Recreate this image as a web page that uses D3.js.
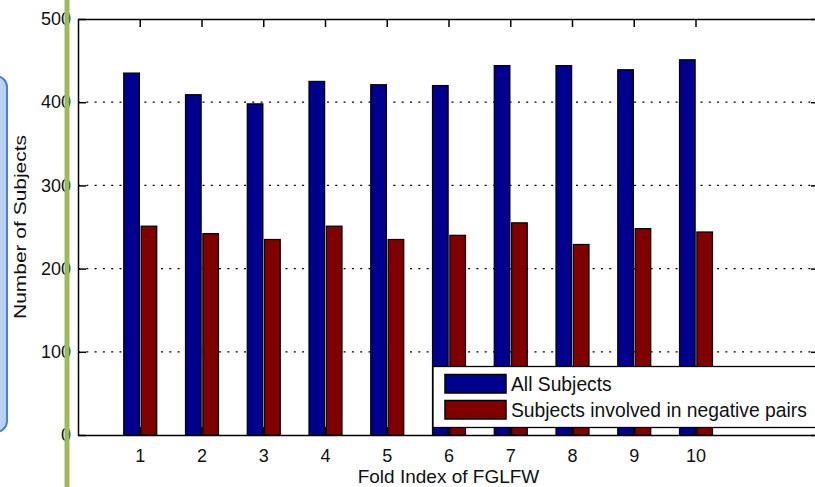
<!DOCTYPE html>
<html>
<head>
<meta charset="utf-8">
<script src="https://cdn.jsdelivr.net/npm/d3@7"></script>
<style>
	body { margin: 0; background: #fff; }
	svg { display: block; }
	text { font-family: Arial, "Liberation Sans", sans-serif; fill: #111; }
</style>
</head>
<body>
<div id="chart"></div>
<script>

const folds = [1, 2, 3, 4, 5, 6, 7, 8, 9, 10];
const allSubjects = [435, 409, 398, 425, 421, 420, 444, 444, 439, 451];
const negSubjects = [251, 242, 235, 251, 235, 240, 255, 229, 248, 244];
const seriesNames = ["All Subjects", "Subjects involved in negative pairs"];
const yTicks = [0, 100, 200, 300, 400, 500];

const W = 815, H = 487;
const m = {t:19, r:-4, b:52, l:78};

const svg = d3.select("#chart").append("svg")
	.attr("width", W)
	.attr("height", H);

const x = d3.scaleLinear()
	.domain([0, 12])
	.range([m.l, W - m.r]);

const y = d3.scaleLinear()
	.domain([0, 500])
	.range([H - m.b, m.t]);

// offsets of the two bars inside a group, in px
const x1 = d3.scaleBand()
	.domain(seriesNames)
	.range([-16, 17])
	.paddingInner(0.1);

const colors = d3.scaleOrdinal()
	.domain(seriesNames)
	.range(["#00008f", "#800000"]);

const data = folds.map((f, i) => ({fold: f, values: [allSubjects[i], negSubjects[i]]}));

// dotted grid
svg.append("g")
	.selectAll("line")
	.data(yTicks.filter(d => d > 0 && d < 500))
	.enter()
	.append("line")
	.attr("x1", x(0))
	.attr("x2", x(12))
	.attr("y1", d => y(d))
	.attr("y2", d => y(d))
	.attr("stroke", "#000")
	.attr("stroke-width", 1.3)
	.attr("stroke-dasharray", "2,6.3");

// bars
const groups = svg.selectAll(".grp")
	.data(data)
	.enter()
	.append("g")
	.attr("class", "grp")
	.attr("transform", d => `translate(${x(d.fold)},0)`);

groups.selectAll("rect")
	.data(d => d.values.map((v, k) => ({name: seriesNames[k], value: v})))
	.enter()
	.append("rect")
	.attr("x", d => x1(d.name))
	.attr("width", x1.bandwidth())
	.attr("y", d => y(d.value))
	.attr("height", d => y(0) - y(d.value))
	.attr("fill", d => colors(d.name))
	.attr("stroke", "#000")
	.attr("stroke-width", 1.2);

// axes (MATLAB style box with inward ticks)
const axisFont = g => g.selectAll("text")
	.style("font-size", "18px")
	.style("font-family", "Arial, 'Liberation Sans', sans-serif")
	.attr("fill", "#1a1a2e");

svg.append("g")
	.attr("transform", `translate(0,${y(0)})`)
	.call(d3.axisBottom(x).tickValues(folds).tickSize(-8).tickPadding(14).tickSizeOuter(0))
	.call(axisFont)
	.call(g => g.select(".domain").attr("stroke-width", 1.5))
	.call(g => g.selectAll(".tick line").attr("stroke-width", 1.5));

svg.append("g")
	.attr("transform", `translate(0,${y(500)})`)
	.call(d3.axisTop(x).tickValues(folds).tickSize(-8).tickFormat("").tickSizeOuter(0))
	.call(g => g.select(".domain").attr("stroke-width", 1.5))
	.call(g => g.selectAll(".tick line").attr("stroke-width", 1.5));

svg.append("g")
	.attr("transform", `translate(${x(0)},0)`)
	.call(d3.axisLeft(y).tickValues(yTicks).tickSize(-8).tickPadding(7).tickSizeOuter(0))
	.call(axisFont)
	.call(g => g.select(".domain").attr("stroke-width", 1.5))
	.call(g => g.selectAll(".tick line").attr("stroke-width", 1.5));

svg.append("g")
	.attr("transform", `translate(${x(12)},0)`)
	.call(d3.axisRight(y).tickValues(yTicks).tickSize(-8).tickFormat("").tickSizeOuter(0))
	.call(g => g.select(".domain").attr("stroke-width", 1.5))
	.call(g => g.selectAll(".tick line").attr("stroke-width", 1.5));

// axis titles
svg.append("text")
	.attr("x", (x(0) + x(12)) / 2)
	.attr("y", 483)
	.attr("text-anchor", "middle")
	.style("font-size", "19px")
	.text("Fold Index of FGLFW");

svg.append("text")
	.attr("transform", `translate(26,${(y(0) + y(500)) / 2}) rotate(-90)`)
	.attr("text-anchor", "middle")
	.attr("textLength", 184)
	.attr("lengthAdjust", "spacingAndGlyphs")
	.style("font-size", "17px")
	.text("Number of Subjects");

// legend
const leg = svg.append("g")
	.attr("transform", "translate(433,366.5)");

leg.append("rect")
	.attr("width", 420)
	.attr("height", 61)
	.attr("fill", "#fff")
	.attr("stroke", "#000")
	.attr("stroke-width", 1.3);

const items = leg.selectAll(".item")
	.data(seriesNames)
	.enter()
	.append("g")
	.attr("class", "item")
	.attr("transform", (d, i) => `translate(12,${8 + i * 26})`);

items.append("rect")
	.attr("width", 61)
	.attr("height", 18.5)
	.attr("fill", d => colors(d))
	.attr("stroke", "#000")
	.attr("stroke-width", 1.5);

items.append("text")
	.attr("x", 66)
	.attr("y", 16)
	.style("font-size", "19.3px")
	.text(d => d);

// slide decorations over the left edge
const defs = svg.append("defs");
const grad = defs.append("linearGradient").attr("id", "boxfill");
grad.append("stop").attr("offset", "0%").attr("stop-color", "#e4eefb");
grad.append("stop").attr("offset", "100%").attr("stop-color", "#b5cdf1");

svg.append("rect")
	.attr("x", -30)
	.attr("y", 76)
	.attr("width", 37)
	.attr("height", 356)
	.attr("rx", 11)
	.attr("fill", "url(#boxfill)")
	.attr("stroke", "#4f81c8")
	.attr("stroke-width", 2);

svg.append("line")
	.attr("x1", 67)
	.attr("x2", 67)
	.attr("y1", 0)
	.attr("y2", H)
	.attr("stroke", "#9bbb59")
	.attr("stroke-width", 5);

</script>
</body>
</html>
